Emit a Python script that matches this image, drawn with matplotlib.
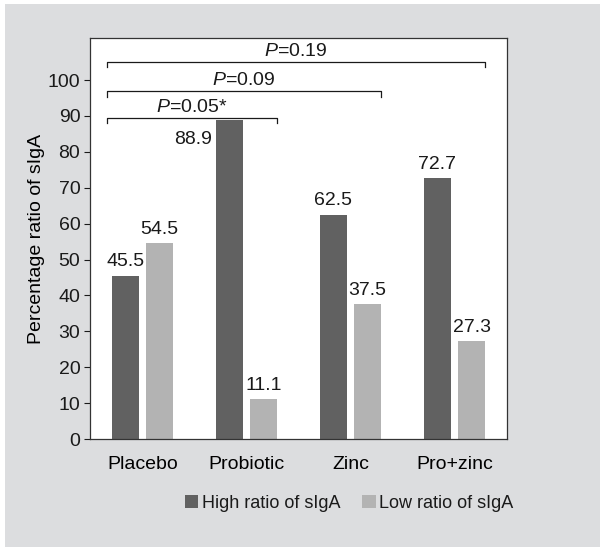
import matplotlib
matplotlib.use("Agg")
import matplotlib.pyplot as plt
from matplotlib.patches import Rectangle
import numpy as np

BG = "#dcdddf"
DARK = "#616161"
LIGHT = "#b3b3b3"
INK = "#1a1a1a"

plt.rcParams.update({
    "font.family": ["Liberation Sans", "DejaVu Sans"],
    "mathtext.fontset": "custom",
    "mathtext.it": "Liberation Sans:italic",
    "mathtext.rm": "Liberation Sans",
    "text.color": INK,
})

groups = ["Placebo", "Probiotic", "Zinc", "Pro+zinc"]
high = [45.5, 88.9, 62.5, 72.7]
low = [54.5, 11.1, 37.5, 27.3]
yticks = [0, 10, 20, 30, 40, 50, 60, 70, 80, 90, 100]
# (left group, right group, bracket level, label)
brackets = [
    (0, 1, 89.4, r"$\it{P}$=0.05*"),
    (0, 2, 96.9, r"$\it{P}$=0.09"),
    (0, 3, 105.0, r"$\it{P}$=0.19"),
]

FS = 14
W, H = 600, 547
fig = plt.figure(figsize=(6.0, 5.47), dpi=100)
fig.patch.set_facecolor("white")
fig.add_artist(Rectangle((5 / W, 0), 1, 1 - 4 / H, transform=fig.transFigure,
                         facecolor=BG, edgecolor="none", zorder=-10))

ax = fig.add_axes([90 / W, 1 - 439 / H, 417 / W, 401 / H])
ax.set_facecolor("white")
x = np.arange(len(groups))
off, bw = 0.165, 0.26
ax.bar(x - off, high, bw, color=DARK, label="High ratio of sIgA", zorder=2)
ax.bar(x + off, low, bw, color=LIGHT, label="Low ratio of sIgA", zorder=2)

ax.set_xlim(-0.505, 3.505)
ax.set_ylim(0, 111.7)
ax.set_yticks(yticks)
ax.set_xticks(x)
ax.set_xticklabels(groups, fontsize=FS)
ax.tick_params(axis="x", length=0, pad=12)
ax.tick_params(axis="y", length=4, width=0.8, labelsize=FS, pad=3, colors=INK)
for s in ax.spines.values():
    s.set_color("#333333")
    s.set_linewidth(0.9)
ax.set_ylabel("Percentage ratio of sIgA", fontsize=FS, labelpad=2)

# value labels
for i, v in enumerate(high):
    if i == 1:
        ax.text(i - off - bw / 2 - 0.04, v - 5.5, f"{v}", ha="right", va="center",
                fontsize=FS)
    else:
        ax.text(i - off, v + 1.5, f"{v}", ha="center", va="bottom", fontsize=FS)
for i, v in enumerate(low):
    ax.text(i + off, v + 1.5, f"{v}", ha="center", va="bottom", fontsize=FS)

# significance brackets
for a, b, lvl, lab in brackets:
    xl = a - off - bw / 2 - 0.05
    xr = b + off + bw / 2
    ax.plot([xl, xl, xr, xr], [lvl - 1.5, lvl, lvl, lvl - 1.5], color=INK,
            lw=0.9, clip_on=False)
    ax.text((xl + xr) / 2, lvl + 0.5, lab, ha="center", va="bottom", fontsize=FS)

fig.legend(loc="center", bbox_to_anchor=(349 / W, 1 - 503 / H), ncol=2,
           frameon=False, fontsize=13, handlelength=0.75, handleheight=0.75,
           handletextpad=0.2, columnspacing=1.2)

fig.savefig("out.png", dpi=100)
